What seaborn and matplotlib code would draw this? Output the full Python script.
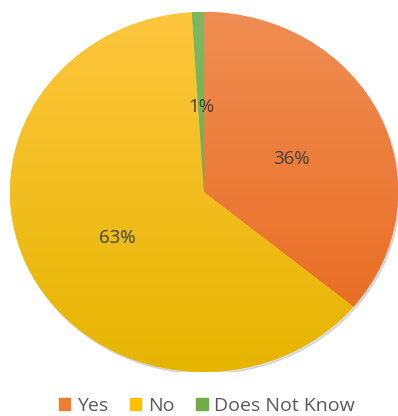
import matplotlib.pyplot as plt
import matplotlib.patches as mpatches
import numpy as np
import seaborn as sns
from matplotlib.colors import LinearSegmentedColormap

sns.set_style("white")
plt.rcParams['font.family'] = ['Open Sans', 'DejaVu Sans']

labels = ['Yes', 'No', 'Does Not Know']
values = [36, 63, 1]
top_colors = ['#F08D52', '#FEC63E', '#80B862']
bottom_colors = ['#E8681C', '#E6B500', '#5EA43E']
solid_colors = ['#ED7D31', '#FFC000', '#70AD47']

fig = plt.figure(figsize=(3.98, 4.16), dpi=100)
ax = fig.add_axes([10 / 398, 44 / 416, 388 / 398, 360 / 416])

# soft shadow behind the pie
shadow = mpatches.Ellipse((0.008, -0.01), 2.0, 2.0, color='#9a9a9a', alpha=0.3, zorder=0)
ax.add_patch(shadow)

wedges, texts, autotexts = ax.pie(values, colors=solid_colors, startangle=90, counterclock=False,
                                  autopct='%.0f%%', pctdistance=0.5,
                                  textprops={'fontsize': 13.5, 'color': '#404040'},
                                  wedgeprops={'linewidth': 0})

# vertical gradient fill, clipped to each wedge
grad = np.linspace(1, 0, 256).reshape(-1, 1)
for w, c0, c1 in zip(wedges, top_colors, bottom_colors):
    cmap = LinearSegmentedColormap.from_list('g', [c1, c0])
    im = ax.imshow(grad, cmap=cmap, extent=[-1, 1, -1, 1], aspect='auto', zorder=1.5, origin='upper',
                   vmin=0, vmax=1)
    im.set_clip_path(w)
for t in autotexts:
    t.set_zorder(3)
    x, y = t.get_position()
    t.set_position((x, y - 0.03))

ax.set_xlim(-1.0, 1.0)
ax.set_ylim(-1.0, 1.0)
ax.set_aspect('auto')
ax.axis('off')

handles = [mpatches.Patch(color=c, label=l) for c, l in zip(solid_colors, labels)]
leg = fig.legend(handles=handles, loc='lower center', bbox_to_anchor=(0.52, -0.04), ncol=3,
                 frameon=False, fontsize=14, handlelength=0.6, handleheight=0.6,
                 handletextpad=0.35, columnspacing=1.1)
for t in leg.get_texts():
    t.set_color('#595959')

fig.savefig('out.png', dpi=100)
